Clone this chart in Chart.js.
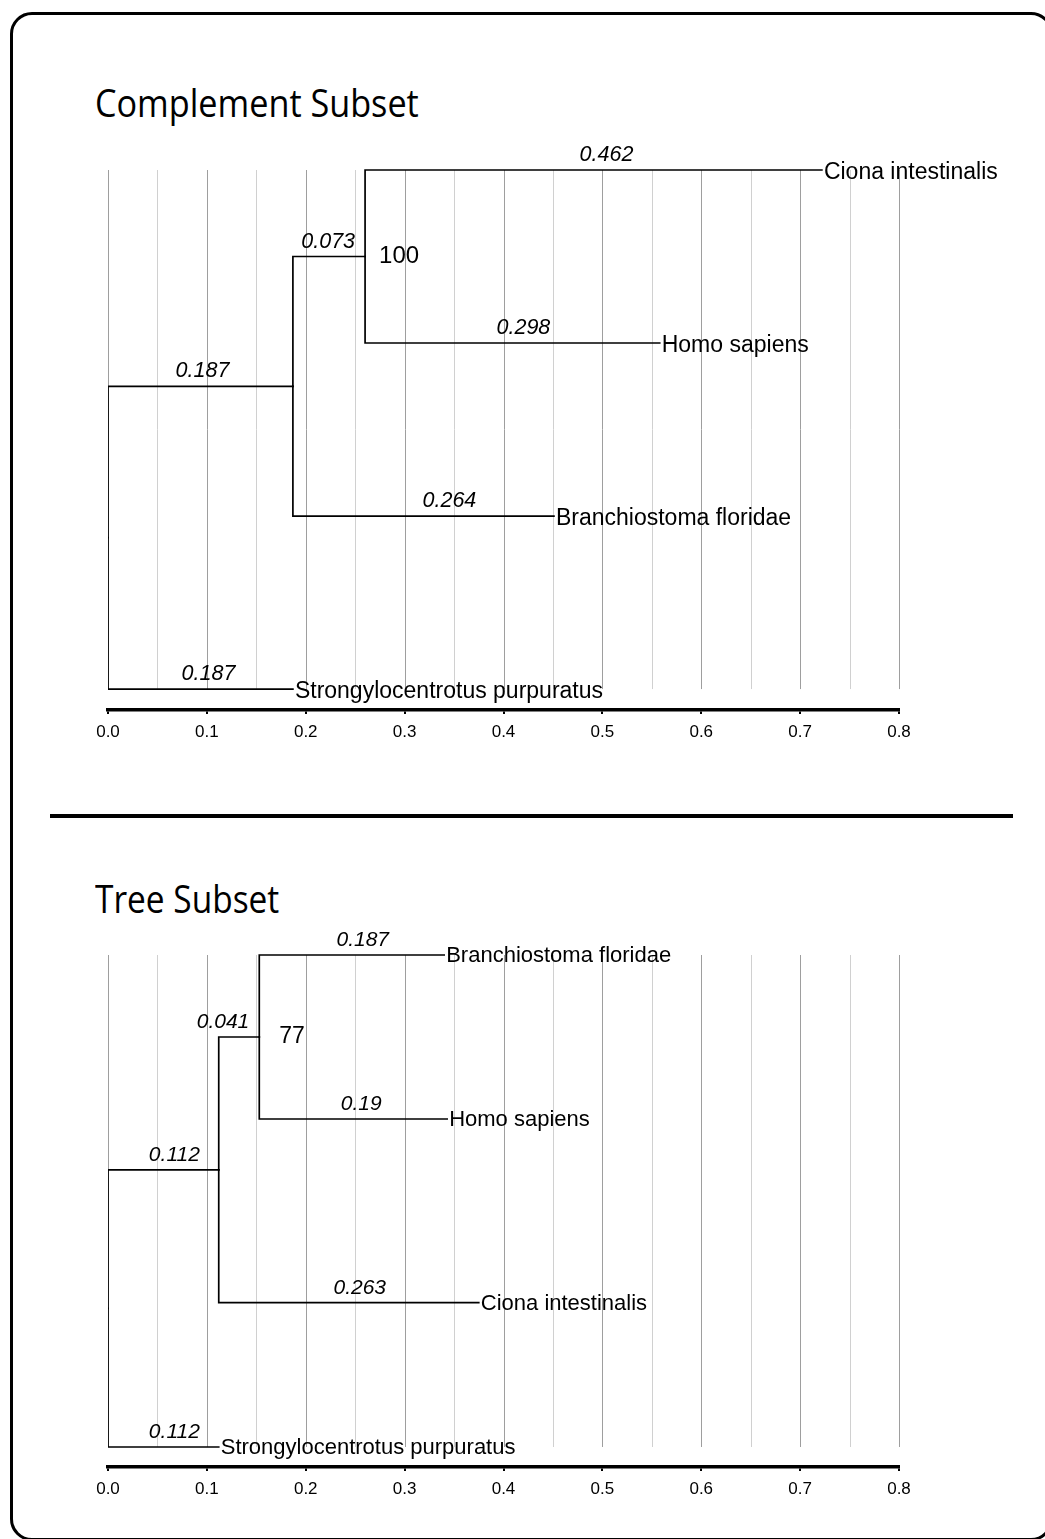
<!DOCTYPE html>
<html>
<head>
<meta charset="utf-8">
<title>Complement Subset / Tree Subset</title>
<script src="https://cdn.jsdelivr.net/npm/chart.js@4.4.1/dist/chart.umd.min.js"></script>
<style>
  html, body { margin: 0; padding: 0; background: #fff; }
  body { width: 1045px; height: 1539px; position: relative; overflow: hidden; }
  .frame {
    position: absolute; left: 10px; top: 12px; width: 1043px; height: 1529px;
    border: 3.5px solid #000; border-radius: 22px; box-sizing: border-box;
  }
  .rule { position: absolute; left: 50px; top: 814px; width: 963px; height: 4px; background: #000; }
  .title {
    position: absolute; left: 95px; margin: 0;
    font-family: "Open Sans", sans-serif; font-weight: 400; font-size: 38px; line-height: 38px;
    white-space: nowrap; color: #000; transform-origin: 0 0;
  }
  canvas { position: absolute; left: 0; }
</style>
</head>
<body>
<div class="frame"></div>
<div class="title" id="title1" style="top:83px; transform: scaleX(0.90)">Complement Subset</div>
<canvas id="chart1" width="1045" height="780" style="top:0px"></canvas>
<div class="rule"></div>
<div class="title" id="title2" style="top:879px; transform: scaleX(0.88)">Tree Subset</div>
<canvas id="chart2" width="1045" height="749" style="top:790px"></canvas>

<script>
// ---- axis ----
const tickValues = [0, 0.1, 0.2, 0.3, 0.4, 0.5, 0.6, 0.7, 0.8];
const tickLabels = ['0.0', '0.1', '0.2', '0.3', '0.4', '0.5', '0.6', '0.7', '0.8'];

// ---- Complement Subset tree ----
const compLeaves = ['Ciona intestinalis', 'Homo sapiens', 'Branchiostoma floridae', 'Strongylocentrotus purpuratus'];
const compLeafRows = [0, 1, 2, 3];
const compChild  = ['n1', 'n2', 'Ciona intestinalis', 'Homo sapiens', 'Branchiostoma floridae', 'Strongylocentrotus purpuratus'];
const compParent = ['root', 'n1', 'n2', 'n2', 'n1', 'root'];
const compLength = [0.187, 0.073, 0.462, 0.298, 0.264, 0.187];
const compSupportNodes = ['n2'];
const compSupport = [100];

// ---- Tree Subset tree ----
const treeLeaves = ['Branchiostoma floridae', 'Homo sapiens', 'Ciona intestinalis', 'Strongylocentrotus purpuratus'];
const treeLeafRows = [0, 1, 2.12, 3];
const treeChild  = ['n1', 'n2', 'Branchiostoma floridae', 'Homo sapiens', 'Ciona intestinalis', 'Strongylocentrotus purpuratus'];
const treeParent = ['root', 'n1', 'n2', 'n2', 'n1', 'root'];
const treeLength = [0.112, 0.041, 0.187, 0.19, 0.263, 0.112];
const treeSupportNodes = ['n2'];
const treeSupport = [77];

// Node coordinates: x = distance from root, y = row (internal nodes sit midway between their children)
function layoutTree(leaves, rows, child, parent, len) {
  const x = { root: 0 }, y = {};
  leaves.forEach((n, i) => { y[n] = rows[i]; });
  let pending = child.map((c, i) => i);
  while (pending.length) {
    pending = pending.filter(i => {
      if (x[parent[i]] === undefined) return true;
      x[child[i]] = x[parent[i]] + len[i];
      return false;
    });
  }
  function getY(n) {
    if (y[n] !== undefined) return y[n];
    const ys = child.filter((c, i) => parent[i] === n).map(getY);
    y[n] = (Math.min(...ys) + Math.max(...ys)) / 2;
    return y[n];
  }
  getY('root');
  return { x, y };
}

// Each edge: along the parent's vertical bar, then across to the child
function edgeDatasets(pos, child, parent) {
  return child.map((c, i) => {
    const p = parent[i];
    return {
      label: p + '-' + c,
      data: [
        { x: pos.x[p], y: pos.y[p] },
        { x: pos.x[p], y: pos.y[c] },
        { x: pos.x[c], y: pos.y[c] }
      ],
      borderColor: '#000',
      borderWidth: 1.7,
      borderCapStyle: 'square',
      borderJoinStyle: 'miter',
      pointRadius: 0,
      fill: false,
      tension: 0
    };
  });
}

const treeDecor = {
  id: 'treeDecor',
  beforeDatasetsDraw(chart, args, o) {
    const xs = chart.scales.x, ys = chart.scales.y, ctx = chart.ctx;
    const top = ys.getPixelForValue(o.rowTop), bottom = ys.getPixelForValue(o.rowBottom);
    ctx.save();
    ctx.lineWidth = 1;
    const lines = [];
    tickValues.forEach((v, i) => {
      lines.push([v, '#9e9e9e']);
      if (i < tickValues.length - 1) lines.push([(v + tickValues[i + 1]) / 2, '#d0d0d0']);
    });
    lines.forEach(([v, col]) => {
      const px = Math.round(xs.getPixelForValue(v)) + 0.5;
      ctx.strokeStyle = col;
      ctx.beginPath();
      ctx.moveTo(px, top);
      ctx.lineTo(px, bottom);
      ctx.stroke();
    });
    ctx.restore();
  },
  afterDatasetsDraw(chart, args, o) {
    const xs = chart.scales.x, ys = chart.scales.y, ctx = chart.ctx;
    const pos = o.pos;
    ctx.save();
    ctx.fillStyle = '#000';
    // branch lengths, set just above each horizontal branch
    ctx.font = 'italic ' + o.lenFont + 'px "Liberation Sans", Arial, sans-serif';
    ctx.textAlign = 'center';
    ctx.textBaseline = 'alphabetic';
    o.child.forEach((c, i) => {
      const p = o.parent[i];
      const x0 = xs.getPixelForValue(pos.x[p]), x1 = xs.getPixelForValue(pos.x[c]);
      const yy = ys.getPixelForValue(pos.y[c]);
      const txt = String(o.len[i]);
      const w = ctx.measureText(txt).width;
      let cx = (x0 + x1) / 2 + 11;
      cx = Math.min(cx, x1 - 10 - w / 2) + (o.lenNudge[i] || 0);
      ctx.fillText(txt, cx, yy - 9);
    });
    // taxon names
    ctx.font = o.leafFont + 'px "Liberation Sans", Arial, sans-serif';
    ctx.textAlign = 'left';
    o.leaves.forEach(n => {
      const px = xs.getPixelForValue(pos.x[n]);
      const py = ys.getPixelForValue(pos.y[n]);
      ctx.fillText(n, px + 2, py + o.leafShift);
    });
    // support values
    ctx.font = o.supFont + 'px "Liberation Sans", Arial, sans-serif';
    o.supportNodes.forEach((n, i) => {
      const px = xs.getPixelForValue(pos.x[n]);
      const py = ys.getPixelForValue(pos.y[n]);
      ctx.fillText(String(o.support[i]), px + o.supGap, py + 6);
    });
    ctx.restore();
  }
};

function makeChart(id, cfg) {
  const pos = layoutTree(cfg.leaves, cfg.rows, cfg.child, cfg.parent, cfg.len);
  return new Chart(document.getElementById(id), {
    type: 'line',
    data: { datasets: edgeDatasets(pos, cfg.child, cfg.parent) },
    plugins: [treeDecor],
    options: {
      responsive: false,
      animation: false,
      devicePixelRatio: 1,
      events: [],
      layout: { padding: cfg.padding },
      plugins: {
        legend: { display: false },
        tooltip: { enabled: false },
        title: { display: false },
        treeDecor: {
          pos: pos, leaves: cfg.leaves, child: cfg.child, parent: cfg.parent, len: cfg.len,
          supportNodes: cfg.supportNodes, support: cfg.support,
          rowTop: cfg.rows[0], rowBottom: cfg.rows[cfg.rows.length - 1],
          lenFont: cfg.lenFont, lenNudge: cfg.lenNudge,
          leafFont: cfg.leafFont, leafShift: cfg.leafShift,
          supFont: cfg.supFont, supGap: cfg.supGap
        }
      },
      scales: {
        x: {
          type: 'linear',
          min: 0, max: 0.8,
          afterBuildTicks: s => { s.ticks = tickValues.map(v => ({ value: v })); },
          afterFit: s => { s.height = 40; },
          ticks: {
            autoSkip: false, maxRotation: 0, padding: 8,
            color: '#000',
            font: { family: '"Liberation Sans", Arial, sans-serif', size: 17 },
            callback: (v, i) => tickLabels[i]
          },
          grid: { display: true, drawOnChartArea: false, drawTicks: true, tickLength: 4, color: '#000', lineWidth: 2 },
          border: { display: true, color: '#000', width: 3.5 }
        },
        y: {
          type: 'linear', reverse: true, display: false,
          min: cfg.yMin, max: cfg.yMax
        }
      }
    }
  });
}

makeChart('chart1', {
  leaves: compLeaves, rows: compLeafRows, child: compChild, parent: compParent, len: compLength,
  supportNodes: compSupportNodes, support: compSupport,
  padding: { left: 108, right: 146, top: 150, bottom: 30 },
  yMin: -0.1156, yMax: 3.121,
  lenFont: 21.5, lenNudge: [-9, 0, 2, 0, 15, -3],
  leafFont: 23, leafShift: 8.5, supFont: 24, supGap: 14
});

makeChart('chart2', {
  leaves: treeLeaves, rows: treeLeafRows, child: treeChild, parent: treeParent, len: treeLength,
  supportNodes: treeSupportNodes, support: treeSupport,
  padding: { left: 108, right: 146, top: 150, bottom: 32 },
  yMin: -0.0915, yMax: 3.122,
  lenFont: 21, lenNudge: [0, 0, 0, -3, 0, 0],
  leafFont: 22, leafShift: 7, supFont: 23, supGap: 20
});
</script>
</body>
</html>
